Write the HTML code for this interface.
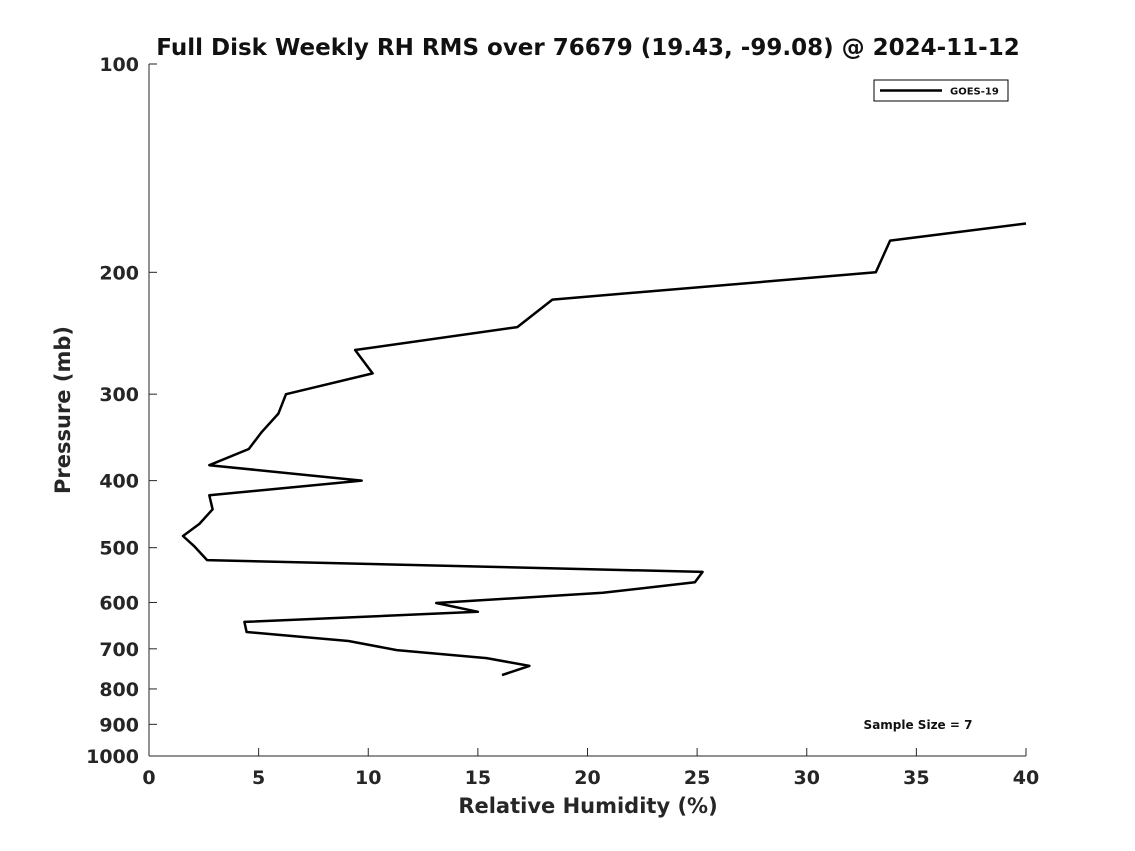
<!DOCTYPE html>
<html><head><meta charset="utf-8"><style>
body{margin:0;background:#fff;}
svg{display:block;font-family:"DejaVu Sans","Liberation Sans",sans-serif;font-weight:bold;}
</style></head><body>
<svg id="chart" width="1135" height="851">
<rect width="1135" height="851" fill="#fff"/>
<text x="588" y="55" text-anchor="middle" font-size="23" fill="#111">Full Disk Weekly RH RMS over 76679 (19.43, -99.08) @ 2024-11-12</text>
<g id="axes"></g>
<path id="line" fill="none" stroke="#000" stroke-width="2.5" stroke-linejoin="round"/>
<g>
<rect x="874" y="80" width="134" height="21" fill="#fff" stroke="#000" stroke-width="1"/>
<line x1="880" y1="90.5" x2="942" y2="90.5" stroke="#000" stroke-width="2.5"/>
<text x="950" y="94.5" font-size="10" fill="#111">GOES-19</text>
</g>
<text x="918" y="729" text-anchor="middle" font-size="12" fill="#111">Sample Size = 7</text>
<text x="588" y="813" text-anchor="middle" font-size="21" fill="#262626">Relative Humidity (%)</text>
<text transform="translate(70,410) rotate(-90)" text-anchor="middle" font-size="21" fill="#262626">Pressure (mb)</text>
</svg>
<script>
const rhValues=[40,33.8,33.15,18.4,16.8,9.4,10.2,6.25,5.9,5.15,4.55,2.75,9.7,2.75,2.9,2.3,1.55,2.05,2.65,25.25,24.9,20.7,13.1,15.0,4.35,4.45,9.1,11.3,15.4,17.35,16.1];
const pressures=[170,180,200,219,240,259,280,300,320,340,360,380,400,420,440,462,481,497,521,542,561,581,601,619,640,662,682,703,722,741,764];
const xTicks=[0,5,10,15,20,25,30,35,40];
const yTicks=[100,200,300,400,500,600,700,800,900,1000];
const X0=149,X1=1026,Y0=64,Y1=756;
const xs=v=>X0+(v-0)/(40-0)*(X1-X0);
const ys=p=>Y0+(Math.log10(p)-2)*(Y1-Y0);
const NS="http://www.w3.org/2000/svg";
const g=document.getElementById('axes');
function mk(t,a){const e=document.createElementNS(NS,t);for(const k in a)e.setAttribute(k,a[k]);g.appendChild(e);return e;}
const xa=mk('line',{x1:X0,y1:Y1,x2:X1,y2:Y1,stroke:'#262626','stroke-width':1});


const ya=mk('line',{x1:X0,y1:Y0,x2:X0,y2:Y1,stroke:'#262626','stroke-width':1});


xTicks.forEach(v=>{
 const x=xs(v);
 mk('line',{x1:x,y1:Y1,x2:x,y2:Y1-8,stroke:'#262626','stroke-width':1});
 const t=mk('text',{x:x,y:Y1+28,'text-anchor':'middle','font-size':19,fill:'#262626'});
 t.textContent=v;
 
 
});
yTicks.forEach(p=>{
 const y=ys(p);
 mk('line',{x1:X0,y1:y,x2:X0+8,y2:y,stroke:'#262626','stroke-width':1});
 const t=mk('text',{x:X0-10,y:y+7,'text-anchor':'end','font-size':19,fill:'#262626'});
 t.textContent=p;
 
 
});
document.getElementById('line').setAttribute('d',rhValues.map((v,i)=>(i?'L':'M')+xs(v).toFixed(1)+','+ys(pressures[i]).toFixed(1)).join(' '));
</script>
</body></html>
